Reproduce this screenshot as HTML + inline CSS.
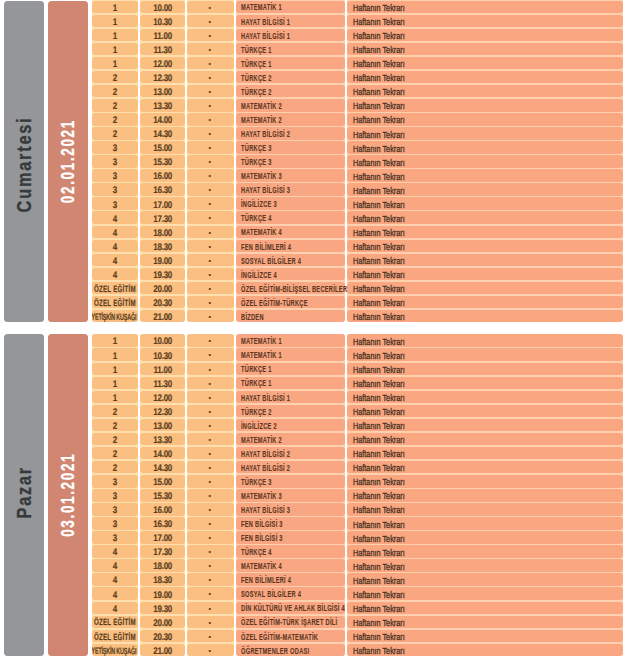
<!DOCTYPE html><html><head><meta charset="utf-8"><style>
html,body{margin:0;padding:0;background:#fff;width:626px;height:661px;overflow:hidden;position:relative}
body{font-family:"Liberation Sans",sans-serif}
#bg,#fg{position:absolute;left:0;top:0;width:626px;height:661px}
#bg{background:#fff;}
.bx{position:absolute;border-radius:3.5px}
.day{background:#95969a}
.dt{background:#d18672}
.c{position:absolute;border-radius:3px;white-space:nowrap}
.o{background:#fbc081}
.s{background:#f9a782}
.h{background:#f9a681}
.clip{overflow:hidden}
.t{position:absolute;left:-20px;right:-20px;text-align:center;font-weight:bold;color:#5c3e20;font-size:9.6px;line-height:0;top:7.1px;transform:scaleX(0.833) rotate(0.3deg);transform-origin:50% 50%;letter-spacing:-0.3px;-webkit-text-stroke:0.18px #5c3e20}
.tl{position:absolute;left:5px;font-weight:bold;color:#5e3822;font-size:9px;line-height:0;top:6.9px;transform:scaleX(0.63);transform-origin:0 50%;letter-spacing:0.45px;-webkit-text-stroke:0.15px #5e3822}
.th{position:absolute;left:5.2px;color:#45301e;font-size:9px;line-height:0;top:7.4px;transform:scaleX(0.81);transform-origin:0 50%;letter-spacing:0px;font-weight:normal;-webkit-text-stroke:0.3px #45301e}
.dash{position:absolute;left:0;top:0;right:0;bottom:0;background:radial-gradient(ellipse 2.0px 0.85px at 22.9px 7.0px,#5c3e20 55%,rgba(90,59,34,0) 100%)}
.vl{position:absolute;left:0;top:0;transform-origin:0 0;white-space:nowrap;font-weight:bold;line-height:0;-webkit-text-stroke:0.3px currentColor}
</style></head><body><div id="bg">
<div class="bx day" style="left:3.8px;top:0.59px;width:40px;height:321.88px"></div>
<div class="bx dt" style="left:48px;top:0.59px;width:39.7px;height:321.88px"></div>
<div class="bx" style="left:92px;top:-0.91px;width:45.8px;height:323.38px;background:#fde0ae;border-radius:3px"></div>
<div class="bx" style="left:139.8px;top:-0.91px;width:45.4px;height:323.38px;background:#fde0ae;border-radius:3px"></div>
<div class="bx" style="left:187.2px;top:-0.91px;width:46.7px;height:323.38px;background:#fde0ae;border-radius:3px"></div>
<div class="bx" style="left:235.9px;top:-0.91px;width:109.5px;height:323.38px;background:#fdd0b0;border-radius:3px"></div>
<div class="bx" style="left:347.4px;top:-0.91px;width:275.2px;height:323.38px;background:#fdd0b0;border-radius:3px"></div>
<div class="c o" style="left:92px;top:0.59px;width:45.8px;height:12.56px"></div>
<div class="c o" style="left:139.8px;top:0.59px;width:45.4px;height:12.56px"></div>
<div class="c o" style="left:187.2px;top:0.59px;width:46.7px;height:12.56px"></div>
<div class="c s" style="left:235.9px;top:0.59px;width:109.5px;height:12.56px"></div>
<div class="c h" style="left:347.4px;top:0.59px;width:275.2px;height:12.56px"></div>
<div class="c o" style="left:92px;top:14.65px;width:45.8px;height:12.56px"></div>
<div class="c o" style="left:139.8px;top:14.65px;width:45.4px;height:12.56px"></div>
<div class="c o" style="left:187.2px;top:14.65px;width:46.7px;height:12.56px"></div>
<div class="c s" style="left:235.9px;top:14.65px;width:109.5px;height:12.56px"></div>
<div class="c h" style="left:347.4px;top:14.65px;width:275.2px;height:12.56px"></div>
<div class="c o" style="left:92px;top:28.71px;width:45.8px;height:12.56px"></div>
<div class="c o" style="left:139.8px;top:28.71px;width:45.4px;height:12.56px"></div>
<div class="c o" style="left:187.2px;top:28.71px;width:46.7px;height:12.56px"></div>
<div class="c s" style="left:235.9px;top:28.71px;width:109.5px;height:12.56px"></div>
<div class="c h" style="left:347.4px;top:28.71px;width:275.2px;height:12.56px"></div>
<div class="c o" style="left:92px;top:42.77px;width:45.8px;height:12.56px"></div>
<div class="c o" style="left:139.8px;top:42.77px;width:45.4px;height:12.56px"></div>
<div class="c o" style="left:187.2px;top:42.77px;width:46.7px;height:12.56px"></div>
<div class="c s" style="left:235.9px;top:42.77px;width:109.5px;height:12.56px"></div>
<div class="c h" style="left:347.4px;top:42.77px;width:275.2px;height:12.56px"></div>
<div class="c o" style="left:92px;top:56.83px;width:45.8px;height:12.56px"></div>
<div class="c o" style="left:139.8px;top:56.83px;width:45.4px;height:12.56px"></div>
<div class="c o" style="left:187.2px;top:56.83px;width:46.7px;height:12.56px"></div>
<div class="c s" style="left:235.9px;top:56.83px;width:109.5px;height:12.56px"></div>
<div class="c h" style="left:347.4px;top:56.83px;width:275.2px;height:12.56px"></div>
<div class="c o" style="left:92px;top:70.89px;width:45.8px;height:12.56px"></div>
<div class="c o" style="left:139.8px;top:70.89px;width:45.4px;height:12.56px"></div>
<div class="c o" style="left:187.2px;top:70.89px;width:46.7px;height:12.56px"></div>
<div class="c s" style="left:235.9px;top:70.89px;width:109.5px;height:12.56px"></div>
<div class="c h" style="left:347.4px;top:70.89px;width:275.2px;height:12.56px"></div>
<div class="c o" style="left:92px;top:84.95px;width:45.8px;height:12.56px"></div>
<div class="c o" style="left:139.8px;top:84.95px;width:45.4px;height:12.56px"></div>
<div class="c o" style="left:187.2px;top:84.95px;width:46.7px;height:12.56px"></div>
<div class="c s" style="left:235.9px;top:84.95px;width:109.5px;height:12.56px"></div>
<div class="c h" style="left:347.4px;top:84.95px;width:275.2px;height:12.56px"></div>
<div class="c o" style="left:92px;top:99.01px;width:45.8px;height:12.56px"></div>
<div class="c o" style="left:139.8px;top:99.01px;width:45.4px;height:12.56px"></div>
<div class="c o" style="left:187.2px;top:99.01px;width:46.7px;height:12.56px"></div>
<div class="c s" style="left:235.9px;top:99.01px;width:109.5px;height:12.56px"></div>
<div class="c h" style="left:347.4px;top:99.01px;width:275.2px;height:12.56px"></div>
<div class="c o" style="left:92px;top:113.07px;width:45.8px;height:12.56px"></div>
<div class="c o" style="left:139.8px;top:113.07px;width:45.4px;height:12.56px"></div>
<div class="c o" style="left:187.2px;top:113.07px;width:46.7px;height:12.56px"></div>
<div class="c s" style="left:235.9px;top:113.07px;width:109.5px;height:12.56px"></div>
<div class="c h" style="left:347.4px;top:113.07px;width:275.2px;height:12.56px"></div>
<div class="c o" style="left:92px;top:127.13px;width:45.8px;height:12.56px"></div>
<div class="c o" style="left:139.8px;top:127.13px;width:45.4px;height:12.56px"></div>
<div class="c o" style="left:187.2px;top:127.13px;width:46.7px;height:12.56px"></div>
<div class="c s" style="left:235.9px;top:127.13px;width:109.5px;height:12.56px"></div>
<div class="c h" style="left:347.4px;top:127.13px;width:275.2px;height:12.56px"></div>
<div class="c o" style="left:92px;top:141.19px;width:45.8px;height:12.56px"></div>
<div class="c o" style="left:139.8px;top:141.19px;width:45.4px;height:12.56px"></div>
<div class="c o" style="left:187.2px;top:141.19px;width:46.7px;height:12.56px"></div>
<div class="c s" style="left:235.9px;top:141.19px;width:109.5px;height:12.56px"></div>
<div class="c h" style="left:347.4px;top:141.19px;width:275.2px;height:12.56px"></div>
<div class="c o" style="left:92px;top:155.25px;width:45.8px;height:12.56px"></div>
<div class="c o" style="left:139.8px;top:155.25px;width:45.4px;height:12.56px"></div>
<div class="c o" style="left:187.2px;top:155.25px;width:46.7px;height:12.56px"></div>
<div class="c s" style="left:235.9px;top:155.25px;width:109.5px;height:12.56px"></div>
<div class="c h" style="left:347.4px;top:155.25px;width:275.2px;height:12.56px"></div>
<div class="c o" style="left:92px;top:169.31px;width:45.8px;height:12.56px"></div>
<div class="c o" style="left:139.8px;top:169.31px;width:45.4px;height:12.56px"></div>
<div class="c o" style="left:187.2px;top:169.31px;width:46.7px;height:12.56px"></div>
<div class="c s" style="left:235.9px;top:169.31px;width:109.5px;height:12.56px"></div>
<div class="c h" style="left:347.4px;top:169.31px;width:275.2px;height:12.56px"></div>
<div class="c o" style="left:92px;top:183.37px;width:45.8px;height:12.56px"></div>
<div class="c o" style="left:139.8px;top:183.37px;width:45.4px;height:12.56px"></div>
<div class="c o" style="left:187.2px;top:183.37px;width:46.7px;height:12.56px"></div>
<div class="c s" style="left:235.9px;top:183.37px;width:109.5px;height:12.56px"></div>
<div class="c h" style="left:347.4px;top:183.37px;width:275.2px;height:12.56px"></div>
<div class="c o" style="left:92px;top:197.43px;width:45.8px;height:12.56px"></div>
<div class="c o" style="left:139.8px;top:197.43px;width:45.4px;height:12.56px"></div>
<div class="c o" style="left:187.2px;top:197.43px;width:46.7px;height:12.56px"></div>
<div class="c s" style="left:235.9px;top:197.43px;width:109.5px;height:12.56px"></div>
<div class="c h" style="left:347.4px;top:197.43px;width:275.2px;height:12.56px"></div>
<div class="c o" style="left:92px;top:211.49px;width:45.8px;height:12.56px"></div>
<div class="c o" style="left:139.8px;top:211.49px;width:45.4px;height:12.56px"></div>
<div class="c o" style="left:187.2px;top:211.49px;width:46.7px;height:12.56px"></div>
<div class="c s" style="left:235.9px;top:211.49px;width:109.5px;height:12.56px"></div>
<div class="c h" style="left:347.4px;top:211.49px;width:275.2px;height:12.56px"></div>
<div class="c o" style="left:92px;top:225.55px;width:45.8px;height:12.56px"></div>
<div class="c o" style="left:139.8px;top:225.55px;width:45.4px;height:12.56px"></div>
<div class="c o" style="left:187.2px;top:225.55px;width:46.7px;height:12.56px"></div>
<div class="c s" style="left:235.9px;top:225.55px;width:109.5px;height:12.56px"></div>
<div class="c h" style="left:347.4px;top:225.55px;width:275.2px;height:12.56px"></div>
<div class="c o" style="left:92px;top:239.61px;width:45.8px;height:12.56px"></div>
<div class="c o" style="left:139.8px;top:239.61px;width:45.4px;height:12.56px"></div>
<div class="c o" style="left:187.2px;top:239.61px;width:46.7px;height:12.56px"></div>
<div class="c s" style="left:235.9px;top:239.61px;width:109.5px;height:12.56px"></div>
<div class="c h" style="left:347.4px;top:239.61px;width:275.2px;height:12.56px"></div>
<div class="c o" style="left:92px;top:253.67px;width:45.8px;height:12.56px"></div>
<div class="c o" style="left:139.8px;top:253.67px;width:45.4px;height:12.56px"></div>
<div class="c o" style="left:187.2px;top:253.67px;width:46.7px;height:12.56px"></div>
<div class="c s" style="left:235.9px;top:253.67px;width:109.5px;height:12.56px"></div>
<div class="c h" style="left:347.4px;top:253.67px;width:275.2px;height:12.56px"></div>
<div class="c o" style="left:92px;top:267.73px;width:45.8px;height:12.56px"></div>
<div class="c o" style="left:139.8px;top:267.73px;width:45.4px;height:12.56px"></div>
<div class="c o" style="left:187.2px;top:267.73px;width:46.7px;height:12.56px"></div>
<div class="c s" style="left:235.9px;top:267.73px;width:109.5px;height:12.56px"></div>
<div class="c h" style="left:347.4px;top:267.73px;width:275.2px;height:12.56px"></div>
<div class="c o" style="left:92px;top:281.79px;width:45.8px;height:12.56px"></div>
<div class="c o" style="left:139.8px;top:281.79px;width:45.4px;height:12.56px"></div>
<div class="c o" style="left:187.2px;top:281.79px;width:46.7px;height:12.56px"></div>
<div class="c s" style="left:235.9px;top:281.79px;width:109.5px;height:12.56px"></div>
<div class="c h" style="left:347.4px;top:281.79px;width:275.2px;height:12.56px"></div>
<div class="c o" style="left:92px;top:295.85px;width:45.8px;height:12.56px"></div>
<div class="c o" style="left:139.8px;top:295.85px;width:45.4px;height:12.56px"></div>
<div class="c o" style="left:187.2px;top:295.85px;width:46.7px;height:12.56px"></div>
<div class="c s" style="left:235.9px;top:295.85px;width:109.5px;height:12.56px"></div>
<div class="c h" style="left:347.4px;top:295.85px;width:275.2px;height:12.56px"></div>
<div class="c o" style="left:92px;top:309.91px;width:45.8px;height:12.56px"></div>
<div class="c o" style="left:139.8px;top:309.91px;width:45.4px;height:12.56px"></div>
<div class="c o" style="left:187.2px;top:309.91px;width:46.7px;height:12.56px"></div>
<div class="c s" style="left:235.9px;top:309.91px;width:109.5px;height:12.56px"></div>
<div class="c h" style="left:347.4px;top:309.91px;width:275.2px;height:12.56px"></div>
<div class="bx day" style="left:3.8px;top:334.38px;width:40px;height:321.88px"></div>
<div class="bx dt" style="left:48px;top:334.38px;width:39.7px;height:321.88px"></div>
<div class="bx" style="left:92px;top:334.38px;width:45.8px;height:321.88px;background:#fde0ae;border-radius:3px"></div>
<div class="bx" style="left:139.8px;top:334.38px;width:45.4px;height:321.88px;background:#fde0ae;border-radius:3px"></div>
<div class="bx" style="left:187.2px;top:334.38px;width:46.7px;height:321.88px;background:#fde0ae;border-radius:3px"></div>
<div class="bx" style="left:235.9px;top:334.38px;width:109.5px;height:321.88px;background:#fdd0b0;border-radius:3px"></div>
<div class="bx" style="left:347.4px;top:334.38px;width:275.2px;height:321.88px;background:#fdd0b0;border-radius:3px"></div>
<div class="c o" style="left:92px;top:334.38px;width:45.8px;height:12.56px"></div>
<div class="c o" style="left:139.8px;top:334.38px;width:45.4px;height:12.56px"></div>
<div class="c o" style="left:187.2px;top:334.38px;width:46.7px;height:12.56px"></div>
<div class="c s" style="left:235.9px;top:334.38px;width:109.5px;height:12.56px"></div>
<div class="c h" style="left:347.4px;top:334.38px;width:275.2px;height:12.56px"></div>
<div class="c o" style="left:92px;top:348.44px;width:45.8px;height:12.56px"></div>
<div class="c o" style="left:139.8px;top:348.44px;width:45.4px;height:12.56px"></div>
<div class="c o" style="left:187.2px;top:348.44px;width:46.7px;height:12.56px"></div>
<div class="c s" style="left:235.9px;top:348.44px;width:109.5px;height:12.56px"></div>
<div class="c h" style="left:347.4px;top:348.44px;width:275.2px;height:12.56px"></div>
<div class="c o" style="left:92px;top:362.5px;width:45.8px;height:12.56px"></div>
<div class="c o" style="left:139.8px;top:362.5px;width:45.4px;height:12.56px"></div>
<div class="c o" style="left:187.2px;top:362.5px;width:46.7px;height:12.56px"></div>
<div class="c s" style="left:235.9px;top:362.5px;width:109.5px;height:12.56px"></div>
<div class="c h" style="left:347.4px;top:362.5px;width:275.2px;height:12.56px"></div>
<div class="c o" style="left:92px;top:376.56px;width:45.8px;height:12.56px"></div>
<div class="c o" style="left:139.8px;top:376.56px;width:45.4px;height:12.56px"></div>
<div class="c o" style="left:187.2px;top:376.56px;width:46.7px;height:12.56px"></div>
<div class="c s" style="left:235.9px;top:376.56px;width:109.5px;height:12.56px"></div>
<div class="c h" style="left:347.4px;top:376.56px;width:275.2px;height:12.56px"></div>
<div class="c o" style="left:92px;top:390.62px;width:45.8px;height:12.56px"></div>
<div class="c o" style="left:139.8px;top:390.62px;width:45.4px;height:12.56px"></div>
<div class="c o" style="left:187.2px;top:390.62px;width:46.7px;height:12.56px"></div>
<div class="c s" style="left:235.9px;top:390.62px;width:109.5px;height:12.56px"></div>
<div class="c h" style="left:347.4px;top:390.62px;width:275.2px;height:12.56px"></div>
<div class="c o" style="left:92px;top:404.68px;width:45.8px;height:12.56px"></div>
<div class="c o" style="left:139.8px;top:404.68px;width:45.4px;height:12.56px"></div>
<div class="c o" style="left:187.2px;top:404.68px;width:46.7px;height:12.56px"></div>
<div class="c s" style="left:235.9px;top:404.68px;width:109.5px;height:12.56px"></div>
<div class="c h" style="left:347.4px;top:404.68px;width:275.2px;height:12.56px"></div>
<div class="c o" style="left:92px;top:418.74px;width:45.8px;height:12.56px"></div>
<div class="c o" style="left:139.8px;top:418.74px;width:45.4px;height:12.56px"></div>
<div class="c o" style="left:187.2px;top:418.74px;width:46.7px;height:12.56px"></div>
<div class="c s" style="left:235.9px;top:418.74px;width:109.5px;height:12.56px"></div>
<div class="c h" style="left:347.4px;top:418.74px;width:275.2px;height:12.56px"></div>
<div class="c o" style="left:92px;top:432.8px;width:45.8px;height:12.56px"></div>
<div class="c o" style="left:139.8px;top:432.8px;width:45.4px;height:12.56px"></div>
<div class="c o" style="left:187.2px;top:432.8px;width:46.7px;height:12.56px"></div>
<div class="c s" style="left:235.9px;top:432.8px;width:109.5px;height:12.56px"></div>
<div class="c h" style="left:347.4px;top:432.8px;width:275.2px;height:12.56px"></div>
<div class="c o" style="left:92px;top:446.86px;width:45.8px;height:12.56px"></div>
<div class="c o" style="left:139.8px;top:446.86px;width:45.4px;height:12.56px"></div>
<div class="c o" style="left:187.2px;top:446.86px;width:46.7px;height:12.56px"></div>
<div class="c s" style="left:235.9px;top:446.86px;width:109.5px;height:12.56px"></div>
<div class="c h" style="left:347.4px;top:446.86px;width:275.2px;height:12.56px"></div>
<div class="c o" style="left:92px;top:460.92px;width:45.8px;height:12.56px"></div>
<div class="c o" style="left:139.8px;top:460.92px;width:45.4px;height:12.56px"></div>
<div class="c o" style="left:187.2px;top:460.92px;width:46.7px;height:12.56px"></div>
<div class="c s" style="left:235.9px;top:460.92px;width:109.5px;height:12.56px"></div>
<div class="c h" style="left:347.4px;top:460.92px;width:275.2px;height:12.56px"></div>
<div class="c o" style="left:92px;top:474.98px;width:45.8px;height:12.56px"></div>
<div class="c o" style="left:139.8px;top:474.98px;width:45.4px;height:12.56px"></div>
<div class="c o" style="left:187.2px;top:474.98px;width:46.7px;height:12.56px"></div>
<div class="c s" style="left:235.9px;top:474.98px;width:109.5px;height:12.56px"></div>
<div class="c h" style="left:347.4px;top:474.98px;width:275.2px;height:12.56px"></div>
<div class="c o" style="left:92px;top:489.04px;width:45.8px;height:12.56px"></div>
<div class="c o" style="left:139.8px;top:489.04px;width:45.4px;height:12.56px"></div>
<div class="c o" style="left:187.2px;top:489.04px;width:46.7px;height:12.56px"></div>
<div class="c s" style="left:235.9px;top:489.04px;width:109.5px;height:12.56px"></div>
<div class="c h" style="left:347.4px;top:489.04px;width:275.2px;height:12.56px"></div>
<div class="c o" style="left:92px;top:503.1px;width:45.8px;height:12.56px"></div>
<div class="c o" style="left:139.8px;top:503.1px;width:45.4px;height:12.56px"></div>
<div class="c o" style="left:187.2px;top:503.1px;width:46.7px;height:12.56px"></div>
<div class="c s" style="left:235.9px;top:503.1px;width:109.5px;height:12.56px"></div>
<div class="c h" style="left:347.4px;top:503.1px;width:275.2px;height:12.56px"></div>
<div class="c o" style="left:92px;top:517.16px;width:45.8px;height:12.56px"></div>
<div class="c o" style="left:139.8px;top:517.16px;width:45.4px;height:12.56px"></div>
<div class="c o" style="left:187.2px;top:517.16px;width:46.7px;height:12.56px"></div>
<div class="c s" style="left:235.9px;top:517.16px;width:109.5px;height:12.56px"></div>
<div class="c h" style="left:347.4px;top:517.16px;width:275.2px;height:12.56px"></div>
<div class="c o" style="left:92px;top:531.22px;width:45.8px;height:12.56px"></div>
<div class="c o" style="left:139.8px;top:531.22px;width:45.4px;height:12.56px"></div>
<div class="c o" style="left:187.2px;top:531.22px;width:46.7px;height:12.56px"></div>
<div class="c s" style="left:235.9px;top:531.22px;width:109.5px;height:12.56px"></div>
<div class="c h" style="left:347.4px;top:531.22px;width:275.2px;height:12.56px"></div>
<div class="c o" style="left:92px;top:545.28px;width:45.8px;height:12.56px"></div>
<div class="c o" style="left:139.8px;top:545.28px;width:45.4px;height:12.56px"></div>
<div class="c o" style="left:187.2px;top:545.28px;width:46.7px;height:12.56px"></div>
<div class="c s" style="left:235.9px;top:545.28px;width:109.5px;height:12.56px"></div>
<div class="c h" style="left:347.4px;top:545.28px;width:275.2px;height:12.56px"></div>
<div class="c o" style="left:92px;top:559.34px;width:45.8px;height:12.56px"></div>
<div class="c o" style="left:139.8px;top:559.34px;width:45.4px;height:12.56px"></div>
<div class="c o" style="left:187.2px;top:559.34px;width:46.7px;height:12.56px"></div>
<div class="c s" style="left:235.9px;top:559.34px;width:109.5px;height:12.56px"></div>
<div class="c h" style="left:347.4px;top:559.34px;width:275.2px;height:12.56px"></div>
<div class="c o" style="left:92px;top:573.4px;width:45.8px;height:12.56px"></div>
<div class="c o" style="left:139.8px;top:573.4px;width:45.4px;height:12.56px"></div>
<div class="c o" style="left:187.2px;top:573.4px;width:46.7px;height:12.56px"></div>
<div class="c s" style="left:235.9px;top:573.4px;width:109.5px;height:12.56px"></div>
<div class="c h" style="left:347.4px;top:573.4px;width:275.2px;height:12.56px"></div>
<div class="c o" style="left:92px;top:587.46px;width:45.8px;height:12.56px"></div>
<div class="c o" style="left:139.8px;top:587.46px;width:45.4px;height:12.56px"></div>
<div class="c o" style="left:187.2px;top:587.46px;width:46.7px;height:12.56px"></div>
<div class="c s" style="left:235.9px;top:587.46px;width:109.5px;height:12.56px"></div>
<div class="c h" style="left:347.4px;top:587.46px;width:275.2px;height:12.56px"></div>
<div class="c o" style="left:92px;top:601.52px;width:45.8px;height:12.56px"></div>
<div class="c o" style="left:139.8px;top:601.52px;width:45.4px;height:12.56px"></div>
<div class="c o" style="left:187.2px;top:601.52px;width:46.7px;height:12.56px"></div>
<div class="c s" style="left:235.9px;top:601.52px;width:109.5px;height:12.56px"></div>
<div class="c h" style="left:347.4px;top:601.52px;width:275.2px;height:12.56px"></div>
<div class="c o" style="left:92px;top:615.58px;width:45.8px;height:12.56px"></div>
<div class="c o" style="left:139.8px;top:615.58px;width:45.4px;height:12.56px"></div>
<div class="c o" style="left:187.2px;top:615.58px;width:46.7px;height:12.56px"></div>
<div class="c s" style="left:235.9px;top:615.58px;width:109.5px;height:12.56px"></div>
<div class="c h" style="left:347.4px;top:615.58px;width:275.2px;height:12.56px"></div>
<div class="c o" style="left:92px;top:629.64px;width:45.8px;height:12.56px"></div>
<div class="c o" style="left:139.8px;top:629.64px;width:45.4px;height:12.56px"></div>
<div class="c o" style="left:187.2px;top:629.64px;width:46.7px;height:12.56px"></div>
<div class="c s" style="left:235.9px;top:629.64px;width:109.5px;height:12.56px"></div>
<div class="c h" style="left:347.4px;top:629.64px;width:275.2px;height:12.56px"></div>
<div class="c o" style="left:92px;top:643.7px;width:45.8px;height:12.56px"></div>
<div class="c o" style="left:139.8px;top:643.7px;width:45.4px;height:12.56px"></div>
<div class="c o" style="left:187.2px;top:643.7px;width:46.7px;height:12.56px"></div>
<div class="c s" style="left:235.9px;top:643.7px;width:109.5px;height:12.56px"></div>
<div class="c h" style="left:347.4px;top:643.7px;width:275.2px;height:12.56px"></div>
</div><div id="fg">
<div class="c clip" style="left:92px;top:0.59px;width:45.8px;height:12.56px"><div class="t">1</div></div>
<div class="c" style="left:139.8px;top:0.59px;width:45.4px;height:12.56px"><div class="t">10.00</div></div>
<div class="c" style="left:187.2px;top:0.59px;width:46.7px;height:12.56px"><div class="dash"></div></div>
<div class="c" style="left:235.9px;top:0.59px;width:109.5px;height:12.56px"><div class="tl">MATEMATİK 1</div></div>
<div class="c" style="left:347.4px;top:0.59px;width:275.2px;height:12.56px"><div class="th">Haftanın Tekrarı</div></div>
<div class="c clip" style="left:92px;top:14.65px;width:45.8px;height:12.56px"><div class="t">1</div></div>
<div class="c" style="left:139.8px;top:14.65px;width:45.4px;height:12.56px"><div class="t">10.30</div></div>
<div class="c" style="left:187.2px;top:14.65px;width:46.7px;height:12.56px"><div class="dash"></div></div>
<div class="c" style="left:235.9px;top:14.65px;width:109.5px;height:12.56px"><div class="tl">HAYAT BİLGİSİ 1</div></div>
<div class="c" style="left:347.4px;top:14.65px;width:275.2px;height:12.56px"><div class="th">Haftanın Tekrarı</div></div>
<div class="c clip" style="left:92px;top:28.71px;width:45.8px;height:12.56px"><div class="t">1</div></div>
<div class="c" style="left:139.8px;top:28.71px;width:45.4px;height:12.56px"><div class="t">11.00</div></div>
<div class="c" style="left:187.2px;top:28.71px;width:46.7px;height:12.56px"><div class="dash"></div></div>
<div class="c" style="left:235.9px;top:28.71px;width:109.5px;height:12.56px"><div class="tl">HAYAT BİLGİSİ 1</div></div>
<div class="c" style="left:347.4px;top:28.71px;width:275.2px;height:12.56px"><div class="th">Haftanın Tekrarı</div></div>
<div class="c clip" style="left:92px;top:42.77px;width:45.8px;height:12.56px"><div class="t">1</div></div>
<div class="c" style="left:139.8px;top:42.77px;width:45.4px;height:12.56px"><div class="t">11.30</div></div>
<div class="c" style="left:187.2px;top:42.77px;width:46.7px;height:12.56px"><div class="dash"></div></div>
<div class="c" style="left:235.9px;top:42.77px;width:109.5px;height:12.56px"><div class="tl">TÜRKÇE 1</div></div>
<div class="c" style="left:347.4px;top:42.77px;width:275.2px;height:12.56px"><div class="th">Haftanın Tekrarı</div></div>
<div class="c clip" style="left:92px;top:56.83px;width:45.8px;height:12.56px"><div class="t">1</div></div>
<div class="c" style="left:139.8px;top:56.83px;width:45.4px;height:12.56px"><div class="t">12.00</div></div>
<div class="c" style="left:187.2px;top:56.83px;width:46.7px;height:12.56px"><div class="dash"></div></div>
<div class="c" style="left:235.9px;top:56.83px;width:109.5px;height:12.56px"><div class="tl">TÜRKÇE 1</div></div>
<div class="c" style="left:347.4px;top:56.83px;width:275.2px;height:12.56px"><div class="th">Haftanın Tekrarı</div></div>
<div class="c clip" style="left:92px;top:70.89px;width:45.8px;height:12.56px"><div class="t">2</div></div>
<div class="c" style="left:139.8px;top:70.89px;width:45.4px;height:12.56px"><div class="t">12.30</div></div>
<div class="c" style="left:187.2px;top:70.89px;width:46.7px;height:12.56px"><div class="dash"></div></div>
<div class="c" style="left:235.9px;top:70.89px;width:109.5px;height:12.56px"><div class="tl">TÜRKÇE 2</div></div>
<div class="c" style="left:347.4px;top:70.89px;width:275.2px;height:12.56px"><div class="th">Haftanın Tekrarı</div></div>
<div class="c clip" style="left:92px;top:84.95px;width:45.8px;height:12.56px"><div class="t">2</div></div>
<div class="c" style="left:139.8px;top:84.95px;width:45.4px;height:12.56px"><div class="t">13.00</div></div>
<div class="c" style="left:187.2px;top:84.95px;width:46.7px;height:12.56px"><div class="dash"></div></div>
<div class="c" style="left:235.9px;top:84.95px;width:109.5px;height:12.56px"><div class="tl">TÜRKÇE 2</div></div>
<div class="c" style="left:347.4px;top:84.95px;width:275.2px;height:12.56px"><div class="th">Haftanın Tekrarı</div></div>
<div class="c clip" style="left:92px;top:99.01px;width:45.8px;height:12.56px"><div class="t">2</div></div>
<div class="c" style="left:139.8px;top:99.01px;width:45.4px;height:12.56px"><div class="t">13.30</div></div>
<div class="c" style="left:187.2px;top:99.01px;width:46.7px;height:12.56px"><div class="dash"></div></div>
<div class="c" style="left:235.9px;top:99.01px;width:109.5px;height:12.56px"><div class="tl">MATEMATİK 2</div></div>
<div class="c" style="left:347.4px;top:99.01px;width:275.2px;height:12.56px"><div class="th">Haftanın Tekrarı</div></div>
<div class="c clip" style="left:92px;top:113.07px;width:45.8px;height:12.56px"><div class="t">2</div></div>
<div class="c" style="left:139.8px;top:113.07px;width:45.4px;height:12.56px"><div class="t">14.00</div></div>
<div class="c" style="left:187.2px;top:113.07px;width:46.7px;height:12.56px"><div class="dash"></div></div>
<div class="c" style="left:235.9px;top:113.07px;width:109.5px;height:12.56px"><div class="tl">MATEMATİK 2</div></div>
<div class="c" style="left:347.4px;top:113.07px;width:275.2px;height:12.56px"><div class="th">Haftanın Tekrarı</div></div>
<div class="c clip" style="left:92px;top:127.13px;width:45.8px;height:12.56px"><div class="t">2</div></div>
<div class="c" style="left:139.8px;top:127.13px;width:45.4px;height:12.56px"><div class="t">14.30</div></div>
<div class="c" style="left:187.2px;top:127.13px;width:46.7px;height:12.56px"><div class="dash"></div></div>
<div class="c" style="left:235.9px;top:127.13px;width:109.5px;height:12.56px"><div class="tl">HAYAT BİLGİSİ 2</div></div>
<div class="c" style="left:347.4px;top:127.13px;width:275.2px;height:12.56px"><div class="th">Haftanın Tekrarı</div></div>
<div class="c clip" style="left:92px;top:141.19px;width:45.8px;height:12.56px"><div class="t">3</div></div>
<div class="c" style="left:139.8px;top:141.19px;width:45.4px;height:12.56px"><div class="t">15.00</div></div>
<div class="c" style="left:187.2px;top:141.19px;width:46.7px;height:12.56px"><div class="dash"></div></div>
<div class="c" style="left:235.9px;top:141.19px;width:109.5px;height:12.56px"><div class="tl">TÜRKÇE 3</div></div>
<div class="c" style="left:347.4px;top:141.19px;width:275.2px;height:12.56px"><div class="th">Haftanın Tekrarı</div></div>
<div class="c clip" style="left:92px;top:155.25px;width:45.8px;height:12.56px"><div class="t">3</div></div>
<div class="c" style="left:139.8px;top:155.25px;width:45.4px;height:12.56px"><div class="t">15.30</div></div>
<div class="c" style="left:187.2px;top:155.25px;width:46.7px;height:12.56px"><div class="dash"></div></div>
<div class="c" style="left:235.9px;top:155.25px;width:109.5px;height:12.56px"><div class="tl">TÜRKÇE 3</div></div>
<div class="c" style="left:347.4px;top:155.25px;width:275.2px;height:12.56px"><div class="th">Haftanın Tekrarı</div></div>
<div class="c clip" style="left:92px;top:169.31px;width:45.8px;height:12.56px"><div class="t">3</div></div>
<div class="c" style="left:139.8px;top:169.31px;width:45.4px;height:12.56px"><div class="t">16.00</div></div>
<div class="c" style="left:187.2px;top:169.31px;width:46.7px;height:12.56px"><div class="dash"></div></div>
<div class="c" style="left:235.9px;top:169.31px;width:109.5px;height:12.56px"><div class="tl">MATEMATİK 3</div></div>
<div class="c" style="left:347.4px;top:169.31px;width:275.2px;height:12.56px"><div class="th">Haftanın Tekrarı</div></div>
<div class="c clip" style="left:92px;top:183.37px;width:45.8px;height:12.56px"><div class="t">3</div></div>
<div class="c" style="left:139.8px;top:183.37px;width:45.4px;height:12.56px"><div class="t">16.30</div></div>
<div class="c" style="left:187.2px;top:183.37px;width:46.7px;height:12.56px"><div class="dash"></div></div>
<div class="c" style="left:235.9px;top:183.37px;width:109.5px;height:12.56px"><div class="tl">HAYAT BİLGİSİ 3</div></div>
<div class="c" style="left:347.4px;top:183.37px;width:275.2px;height:12.56px"><div class="th">Haftanın Tekrarı</div></div>
<div class="c clip" style="left:92px;top:197.43px;width:45.8px;height:12.56px"><div class="t">3</div></div>
<div class="c" style="left:139.8px;top:197.43px;width:45.4px;height:12.56px"><div class="t">17.00</div></div>
<div class="c" style="left:187.2px;top:197.43px;width:46.7px;height:12.56px"><div class="dash"></div></div>
<div class="c" style="left:235.9px;top:197.43px;width:109.5px;height:12.56px"><div class="tl">İNGİLİZCE 3</div></div>
<div class="c" style="left:347.4px;top:197.43px;width:275.2px;height:12.56px"><div class="th">Haftanın Tekrarı</div></div>
<div class="c clip" style="left:92px;top:211.49px;width:45.8px;height:12.56px"><div class="t">4</div></div>
<div class="c" style="left:139.8px;top:211.49px;width:45.4px;height:12.56px"><div class="t">17.30</div></div>
<div class="c" style="left:187.2px;top:211.49px;width:46.7px;height:12.56px"><div class="dash"></div></div>
<div class="c" style="left:235.9px;top:211.49px;width:109.5px;height:12.56px"><div class="tl">TÜRKÇE 4</div></div>
<div class="c" style="left:347.4px;top:211.49px;width:275.2px;height:12.56px"><div class="th">Haftanın Tekrarı</div></div>
<div class="c clip" style="left:92px;top:225.55px;width:45.8px;height:12.56px"><div class="t">4</div></div>
<div class="c" style="left:139.8px;top:225.55px;width:45.4px;height:12.56px"><div class="t">18.00</div></div>
<div class="c" style="left:187.2px;top:225.55px;width:46.7px;height:12.56px"><div class="dash"></div></div>
<div class="c" style="left:235.9px;top:225.55px;width:109.5px;height:12.56px"><div class="tl">MATEMATİK 4</div></div>
<div class="c" style="left:347.4px;top:225.55px;width:275.2px;height:12.56px"><div class="th">Haftanın Tekrarı</div></div>
<div class="c clip" style="left:92px;top:239.61px;width:45.8px;height:12.56px"><div class="t">4</div></div>
<div class="c" style="left:139.8px;top:239.61px;width:45.4px;height:12.56px"><div class="t">18.30</div></div>
<div class="c" style="left:187.2px;top:239.61px;width:46.7px;height:12.56px"><div class="dash"></div></div>
<div class="c" style="left:235.9px;top:239.61px;width:109.5px;height:12.56px"><div class="tl">FEN BİLİMLERİ 4</div></div>
<div class="c" style="left:347.4px;top:239.61px;width:275.2px;height:12.56px"><div class="th">Haftanın Tekrarı</div></div>
<div class="c clip" style="left:92px;top:253.67px;width:45.8px;height:12.56px"><div class="t">4</div></div>
<div class="c" style="left:139.8px;top:253.67px;width:45.4px;height:12.56px"><div class="t">19.00</div></div>
<div class="c" style="left:187.2px;top:253.67px;width:46.7px;height:12.56px"><div class="dash"></div></div>
<div class="c" style="left:235.9px;top:253.67px;width:109.5px;height:12.56px"><div class="tl">SOSYAL BİLGİLER 4</div></div>
<div class="c" style="left:347.4px;top:253.67px;width:275.2px;height:12.56px"><div class="th">Haftanın Tekrarı</div></div>
<div class="c clip" style="left:92px;top:267.73px;width:45.8px;height:12.56px"><div class="t">4</div></div>
<div class="c" style="left:139.8px;top:267.73px;width:45.4px;height:12.56px"><div class="t">19.30</div></div>
<div class="c" style="left:187.2px;top:267.73px;width:46.7px;height:12.56px"><div class="dash"></div></div>
<div class="c" style="left:235.9px;top:267.73px;width:109.5px;height:12.56px"><div class="tl">İNGİLİZCE 4</div></div>
<div class="c" style="left:347.4px;top:267.73px;width:275.2px;height:12.56px"><div class="th">Haftanın Tekrarı</div></div>
<div class="c clip" style="left:92px;top:281.79px;width:45.8px;height:12.56px"><div class="t" style="transform:scaleX(0.68) rotate(0.3deg);font-size:9px;top:6.9px;letter-spacing:0.4px;-webkit-text-stroke:0.2px #5c3e20">ÖZEL EĞİTİM</div></div>
<div class="c" style="left:139.8px;top:281.79px;width:45.4px;height:12.56px"><div class="t">20.00</div></div>
<div class="c" style="left:187.2px;top:281.79px;width:46.7px;height:12.56px"><div class="dash"></div></div>
<div class="c" style="left:235.9px;top:281.79px;width:109.5px;height:12.56px"><div class="tl">ÖZEL EĞİTİM-BİLİŞSEL BECERİLER</div></div>
<div class="c" style="left:347.4px;top:281.79px;width:275.2px;height:12.56px"><div class="th">Haftanın Tekrarı</div></div>
<div class="c clip" style="left:92px;top:295.85px;width:45.8px;height:12.56px"><div class="t" style="transform:scaleX(0.68) rotate(0.3deg);font-size:9px;top:6.9px;letter-spacing:0.4px;-webkit-text-stroke:0.2px #5c3e20">ÖZEL EĞİTİM</div></div>
<div class="c" style="left:139.8px;top:295.85px;width:45.4px;height:12.56px"><div class="t">20.30</div></div>
<div class="c" style="left:187.2px;top:295.85px;width:46.7px;height:12.56px"><div class="dash"></div></div>
<div class="c" style="left:235.9px;top:295.85px;width:109.5px;height:12.56px"><div class="tl">ÖZEL EĞİTİM-TÜRKÇE</div></div>
<div class="c" style="left:347.4px;top:295.85px;width:275.2px;height:12.56px"><div class="th">Haftanın Tekrarı</div></div>
<div class="c clip" style="left:92px;top:309.91px;width:45.8px;height:12.56px"><div class="t" style="transform:scaleX(0.6) rotate(0.3deg);font-size:9px;top:6.9px;left:-21.5px;right:-18.5px;-webkit-text-stroke:0.2px #5c3e20">YETİŞKİN KUŞAĞI</div></div>
<div class="c" style="left:139.8px;top:309.91px;width:45.4px;height:12.56px"><div class="t">21.00</div></div>
<div class="c" style="left:187.2px;top:309.91px;width:46.7px;height:12.56px"><div class="dash"></div></div>
<div class="c" style="left:235.9px;top:309.91px;width:109.5px;height:12.56px"><div class="tl">BİZDEN</div></div>
<div class="c" style="left:347.4px;top:309.91px;width:275.2px;height:12.56px"><div class="th">Haftanın Tekrarı</div></div>
<div class="c clip" style="left:92px;top:334.38px;width:45.8px;height:12.56px"><div class="t">1</div></div>
<div class="c" style="left:139.8px;top:334.38px;width:45.4px;height:12.56px"><div class="t">10.00</div></div>
<div class="c" style="left:187.2px;top:334.38px;width:46.7px;height:12.56px"><div class="dash"></div></div>
<div class="c" style="left:235.9px;top:334.38px;width:109.5px;height:12.56px"><div class="tl">MATEMATİK 1</div></div>
<div class="c" style="left:347.4px;top:334.38px;width:275.2px;height:12.56px"><div class="th">Haftanın Tekrarı</div></div>
<div class="c clip" style="left:92px;top:348.44px;width:45.8px;height:12.56px"><div class="t">1</div></div>
<div class="c" style="left:139.8px;top:348.44px;width:45.4px;height:12.56px"><div class="t">10.30</div></div>
<div class="c" style="left:187.2px;top:348.44px;width:46.7px;height:12.56px"><div class="dash"></div></div>
<div class="c" style="left:235.9px;top:348.44px;width:109.5px;height:12.56px"><div class="tl">MATEMATİK 1</div></div>
<div class="c" style="left:347.4px;top:348.44px;width:275.2px;height:12.56px"><div class="th">Haftanın Tekrarı</div></div>
<div class="c clip" style="left:92px;top:362.5px;width:45.8px;height:12.56px"><div class="t">1</div></div>
<div class="c" style="left:139.8px;top:362.5px;width:45.4px;height:12.56px"><div class="t">11.00</div></div>
<div class="c" style="left:187.2px;top:362.5px;width:46.7px;height:12.56px"><div class="dash"></div></div>
<div class="c" style="left:235.9px;top:362.5px;width:109.5px;height:12.56px"><div class="tl">TÜRKÇE 1</div></div>
<div class="c" style="left:347.4px;top:362.5px;width:275.2px;height:12.56px"><div class="th">Haftanın Tekrarı</div></div>
<div class="c clip" style="left:92px;top:376.56px;width:45.8px;height:12.56px"><div class="t">1</div></div>
<div class="c" style="left:139.8px;top:376.56px;width:45.4px;height:12.56px"><div class="t">11.30</div></div>
<div class="c" style="left:187.2px;top:376.56px;width:46.7px;height:12.56px"><div class="dash"></div></div>
<div class="c" style="left:235.9px;top:376.56px;width:109.5px;height:12.56px"><div class="tl">TÜRKÇE 1</div></div>
<div class="c" style="left:347.4px;top:376.56px;width:275.2px;height:12.56px"><div class="th">Haftanın Tekrarı</div></div>
<div class="c clip" style="left:92px;top:390.62px;width:45.8px;height:12.56px"><div class="t">1</div></div>
<div class="c" style="left:139.8px;top:390.62px;width:45.4px;height:12.56px"><div class="t">12.00</div></div>
<div class="c" style="left:187.2px;top:390.62px;width:46.7px;height:12.56px"><div class="dash"></div></div>
<div class="c" style="left:235.9px;top:390.62px;width:109.5px;height:12.56px"><div class="tl">HAYAT BİLGİSİ 1</div></div>
<div class="c" style="left:347.4px;top:390.62px;width:275.2px;height:12.56px"><div class="th">Haftanın Tekrarı</div></div>
<div class="c clip" style="left:92px;top:404.68px;width:45.8px;height:12.56px"><div class="t">2</div></div>
<div class="c" style="left:139.8px;top:404.68px;width:45.4px;height:12.56px"><div class="t">12.30</div></div>
<div class="c" style="left:187.2px;top:404.68px;width:46.7px;height:12.56px"><div class="dash"></div></div>
<div class="c" style="left:235.9px;top:404.68px;width:109.5px;height:12.56px"><div class="tl">TÜRKÇE 2</div></div>
<div class="c" style="left:347.4px;top:404.68px;width:275.2px;height:12.56px"><div class="th">Haftanın Tekrarı</div></div>
<div class="c clip" style="left:92px;top:418.74px;width:45.8px;height:12.56px"><div class="t">2</div></div>
<div class="c" style="left:139.8px;top:418.74px;width:45.4px;height:12.56px"><div class="t">13.00</div></div>
<div class="c" style="left:187.2px;top:418.74px;width:46.7px;height:12.56px"><div class="dash"></div></div>
<div class="c" style="left:235.9px;top:418.74px;width:109.5px;height:12.56px"><div class="tl">İNGİLİZCE 2</div></div>
<div class="c" style="left:347.4px;top:418.74px;width:275.2px;height:12.56px"><div class="th">Haftanın Tekrarı</div></div>
<div class="c clip" style="left:92px;top:432.8px;width:45.8px;height:12.56px"><div class="t">2</div></div>
<div class="c" style="left:139.8px;top:432.8px;width:45.4px;height:12.56px"><div class="t">13.30</div></div>
<div class="c" style="left:187.2px;top:432.8px;width:46.7px;height:12.56px"><div class="dash"></div></div>
<div class="c" style="left:235.9px;top:432.8px;width:109.5px;height:12.56px"><div class="tl">MATEMATİK 2</div></div>
<div class="c" style="left:347.4px;top:432.8px;width:275.2px;height:12.56px"><div class="th">Haftanın Tekrarı</div></div>
<div class="c clip" style="left:92px;top:446.86px;width:45.8px;height:12.56px"><div class="t">2</div></div>
<div class="c" style="left:139.8px;top:446.86px;width:45.4px;height:12.56px"><div class="t">14.00</div></div>
<div class="c" style="left:187.2px;top:446.86px;width:46.7px;height:12.56px"><div class="dash"></div></div>
<div class="c" style="left:235.9px;top:446.86px;width:109.5px;height:12.56px"><div class="tl">HAYAT BİLGİSİ 2</div></div>
<div class="c" style="left:347.4px;top:446.86px;width:275.2px;height:12.56px"><div class="th">Haftanın Tekrarı</div></div>
<div class="c clip" style="left:92px;top:460.92px;width:45.8px;height:12.56px"><div class="t">2</div></div>
<div class="c" style="left:139.8px;top:460.92px;width:45.4px;height:12.56px"><div class="t">14.30</div></div>
<div class="c" style="left:187.2px;top:460.92px;width:46.7px;height:12.56px"><div class="dash"></div></div>
<div class="c" style="left:235.9px;top:460.92px;width:109.5px;height:12.56px"><div class="tl">HAYAT BİLGİSİ 2</div></div>
<div class="c" style="left:347.4px;top:460.92px;width:275.2px;height:12.56px"><div class="th">Haftanın Tekrarı</div></div>
<div class="c clip" style="left:92px;top:474.98px;width:45.8px;height:12.56px"><div class="t">3</div></div>
<div class="c" style="left:139.8px;top:474.98px;width:45.4px;height:12.56px"><div class="t">15.00</div></div>
<div class="c" style="left:187.2px;top:474.98px;width:46.7px;height:12.56px"><div class="dash"></div></div>
<div class="c" style="left:235.9px;top:474.98px;width:109.5px;height:12.56px"><div class="tl">TÜRKÇE 3</div></div>
<div class="c" style="left:347.4px;top:474.98px;width:275.2px;height:12.56px"><div class="th">Haftanın Tekrarı</div></div>
<div class="c clip" style="left:92px;top:489.04px;width:45.8px;height:12.56px"><div class="t">3</div></div>
<div class="c" style="left:139.8px;top:489.04px;width:45.4px;height:12.56px"><div class="t">15.30</div></div>
<div class="c" style="left:187.2px;top:489.04px;width:46.7px;height:12.56px"><div class="dash"></div></div>
<div class="c" style="left:235.9px;top:489.04px;width:109.5px;height:12.56px"><div class="tl">MATEMATİK 3</div></div>
<div class="c" style="left:347.4px;top:489.04px;width:275.2px;height:12.56px"><div class="th">Haftanın Tekrarı</div></div>
<div class="c clip" style="left:92px;top:503.1px;width:45.8px;height:12.56px"><div class="t">3</div></div>
<div class="c" style="left:139.8px;top:503.1px;width:45.4px;height:12.56px"><div class="t">16.00</div></div>
<div class="c" style="left:187.2px;top:503.1px;width:46.7px;height:12.56px"><div class="dash"></div></div>
<div class="c" style="left:235.9px;top:503.1px;width:109.5px;height:12.56px"><div class="tl">HAYAT BİLGİSİ 3</div></div>
<div class="c" style="left:347.4px;top:503.1px;width:275.2px;height:12.56px"><div class="th">Haftanın Tekrarı</div></div>
<div class="c clip" style="left:92px;top:517.16px;width:45.8px;height:12.56px"><div class="t">3</div></div>
<div class="c" style="left:139.8px;top:517.16px;width:45.4px;height:12.56px"><div class="t">16.30</div></div>
<div class="c" style="left:187.2px;top:517.16px;width:46.7px;height:12.56px"><div class="dash"></div></div>
<div class="c" style="left:235.9px;top:517.16px;width:109.5px;height:12.56px"><div class="tl">FEN BİLGİSİ 3</div></div>
<div class="c" style="left:347.4px;top:517.16px;width:275.2px;height:12.56px"><div class="th">Haftanın Tekrarı</div></div>
<div class="c clip" style="left:92px;top:531.22px;width:45.8px;height:12.56px"><div class="t">3</div></div>
<div class="c" style="left:139.8px;top:531.22px;width:45.4px;height:12.56px"><div class="t">17.00</div></div>
<div class="c" style="left:187.2px;top:531.22px;width:46.7px;height:12.56px"><div class="dash"></div></div>
<div class="c" style="left:235.9px;top:531.22px;width:109.5px;height:12.56px"><div class="tl">FEN BİLGİSİ 3</div></div>
<div class="c" style="left:347.4px;top:531.22px;width:275.2px;height:12.56px"><div class="th">Haftanın Tekrarı</div></div>
<div class="c clip" style="left:92px;top:545.28px;width:45.8px;height:12.56px"><div class="t">4</div></div>
<div class="c" style="left:139.8px;top:545.28px;width:45.4px;height:12.56px"><div class="t">17.30</div></div>
<div class="c" style="left:187.2px;top:545.28px;width:46.7px;height:12.56px"><div class="dash"></div></div>
<div class="c" style="left:235.9px;top:545.28px;width:109.5px;height:12.56px"><div class="tl">TÜRKÇE 4</div></div>
<div class="c" style="left:347.4px;top:545.28px;width:275.2px;height:12.56px"><div class="th">Haftanın Tekrarı</div></div>
<div class="c clip" style="left:92px;top:559.34px;width:45.8px;height:12.56px"><div class="t">4</div></div>
<div class="c" style="left:139.8px;top:559.34px;width:45.4px;height:12.56px"><div class="t">18.00</div></div>
<div class="c" style="left:187.2px;top:559.34px;width:46.7px;height:12.56px"><div class="dash"></div></div>
<div class="c" style="left:235.9px;top:559.34px;width:109.5px;height:12.56px"><div class="tl">MATEMATİK 4</div></div>
<div class="c" style="left:347.4px;top:559.34px;width:275.2px;height:12.56px"><div class="th">Haftanın Tekrarı</div></div>
<div class="c clip" style="left:92px;top:573.4px;width:45.8px;height:12.56px"><div class="t">4</div></div>
<div class="c" style="left:139.8px;top:573.4px;width:45.4px;height:12.56px"><div class="t">18.30</div></div>
<div class="c" style="left:187.2px;top:573.4px;width:46.7px;height:12.56px"><div class="dash"></div></div>
<div class="c" style="left:235.9px;top:573.4px;width:109.5px;height:12.56px"><div class="tl">FEN BİLİMLERİ 4</div></div>
<div class="c" style="left:347.4px;top:573.4px;width:275.2px;height:12.56px"><div class="th">Haftanın Tekrarı</div></div>
<div class="c clip" style="left:92px;top:587.46px;width:45.8px;height:12.56px"><div class="t">4</div></div>
<div class="c" style="left:139.8px;top:587.46px;width:45.4px;height:12.56px"><div class="t">19.00</div></div>
<div class="c" style="left:187.2px;top:587.46px;width:46.7px;height:12.56px"><div class="dash"></div></div>
<div class="c" style="left:235.9px;top:587.46px;width:109.5px;height:12.56px"><div class="tl">SOSYAL BİLGİLER 4</div></div>
<div class="c" style="left:347.4px;top:587.46px;width:275.2px;height:12.56px"><div class="th">Haftanın Tekrarı</div></div>
<div class="c clip" style="left:92px;top:601.52px;width:45.8px;height:12.56px"><div class="t">4</div></div>
<div class="c" style="left:139.8px;top:601.52px;width:45.4px;height:12.56px"><div class="t">19.30</div></div>
<div class="c" style="left:187.2px;top:601.52px;width:46.7px;height:12.56px"><div class="dash"></div></div>
<div class="c" style="left:235.9px;top:601.52px;width:109.5px;height:12.56px"><div class="tl">DİN KÜLTÜRÜ VE AHLAK BİLGİSİ 4</div></div>
<div class="c" style="left:347.4px;top:601.52px;width:275.2px;height:12.56px"><div class="th">Haftanın Tekrarı</div></div>
<div class="c clip" style="left:92px;top:615.58px;width:45.8px;height:12.56px"><div class="t" style="transform:scaleX(0.68) rotate(0.3deg);font-size:9px;top:6.9px;letter-spacing:0.4px;-webkit-text-stroke:0.2px #5c3e20">ÖZEL EĞİTİM</div></div>
<div class="c" style="left:139.8px;top:615.58px;width:45.4px;height:12.56px"><div class="t">20.00</div></div>
<div class="c" style="left:187.2px;top:615.58px;width:46.7px;height:12.56px"><div class="dash"></div></div>
<div class="c" style="left:235.9px;top:615.58px;width:109.5px;height:12.56px"><div class="tl">ÖZEL EĞİTİM-TÜRK İŞARET DİLİ</div></div>
<div class="c" style="left:347.4px;top:615.58px;width:275.2px;height:12.56px"><div class="th">Haftanın Tekrarı</div></div>
<div class="c clip" style="left:92px;top:629.64px;width:45.8px;height:12.56px"><div class="t" style="transform:scaleX(0.68) rotate(0.3deg);font-size:9px;top:6.9px;letter-spacing:0.4px;-webkit-text-stroke:0.2px #5c3e20">ÖZEL EĞİTİM</div></div>
<div class="c" style="left:139.8px;top:629.64px;width:45.4px;height:12.56px"><div class="t">20.30</div></div>
<div class="c" style="left:187.2px;top:629.64px;width:46.7px;height:12.56px"><div class="dash"></div></div>
<div class="c" style="left:235.9px;top:629.64px;width:109.5px;height:12.56px"><div class="tl">ÖZEL EĞİTİM-MATEMATİK</div></div>
<div class="c" style="left:347.4px;top:629.64px;width:275.2px;height:12.56px"><div class="th">Haftanın Tekrarı</div></div>
<div class="c clip" style="left:92px;top:643.7px;width:45.8px;height:12.56px"><div class="t" style="transform:scaleX(0.6) rotate(0.3deg);font-size:9px;top:6.9px;left:-21.5px;right:-18.5px;-webkit-text-stroke:0.2px #5c3e20">YETİŞKİN KUŞAĞI</div></div>
<div class="c" style="left:139.8px;top:643.7px;width:45.4px;height:12.56px"><div class="t">21.00</div></div>
<div class="c" style="left:187.2px;top:643.7px;width:46.7px;height:12.56px"><div class="dash"></div></div>
<div class="c" style="left:235.9px;top:643.7px;width:109.5px;height:12.56px"><div class="tl">ÖĞRETMENLER ODASI</div></div>
<div class="c" style="left:347.4px;top:643.7px;width:275.2px;height:12.56px"><div class="th">Haftanın Tekrarı</div></div>
<div class="vl" style="font-size:20px;letter-spacing:2.2px;color:#38393b;transform:translate(24.2px,164.5px) rotate(-90deg) scaleX(0.815) translate(-50%,0)">Cumartesi</div>
<div class="vl" style="font-size:18px;letter-spacing:2.2px;color:#fff;transform:translate(68.2px,161.1px) rotate(-90deg) scaleX(0.75) translate(-50%,0)">02.01.2021</div>
<div class="vl" style="font-size:20px;letter-spacing:2.2px;color:#38393b;transform:translate(24.2px,492.3px) rotate(-90deg) scaleX(0.815) translate(-50%,0)">Pazar</div>
<div class="vl" style="font-size:18px;letter-spacing:2.2px;color:#fff;transform:translate(68.2px,494.8px) rotate(-90deg) scaleX(0.75) translate(-50%,0)">03.01.2021</div>
</div></body></html>
